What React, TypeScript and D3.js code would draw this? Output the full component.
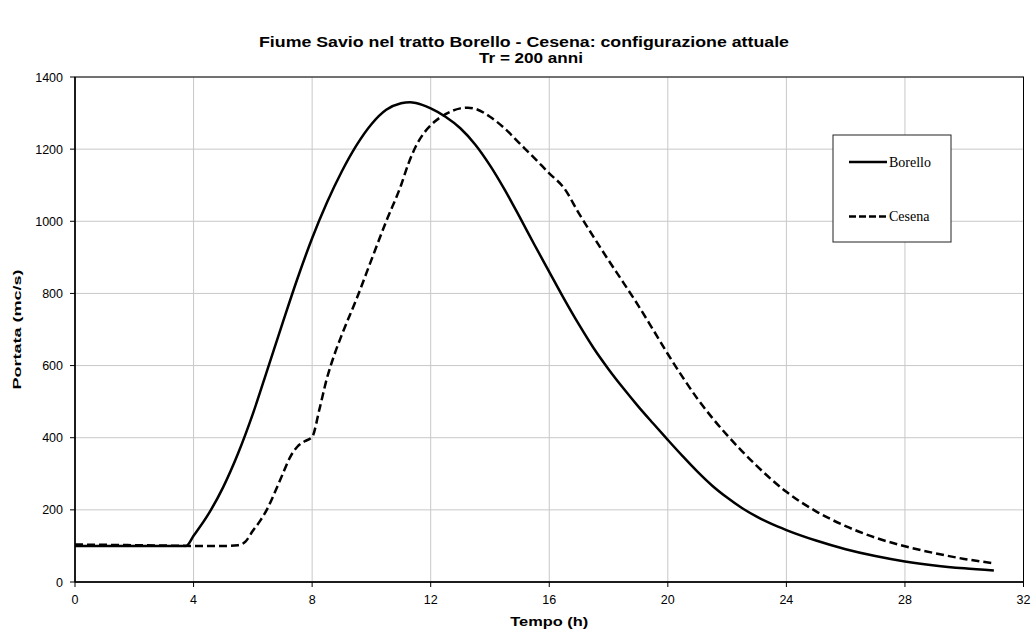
import React from "react";
import * as d3 from "d3";

const borelloT = [0, 1, 2, 3, 3.75, 4, 4.5, 5, 5.5, 6, 6.5, 7, 7.5, 8, 8.5, 9, 9.5, 10, 10.5, 11, 11.3, 11.5, 12, 12.5, 13, 13.5, 14, 14.5, 15, 15.5, 16, 16.5, 17, 17.5, 18, 18.5, 19, 19.5, 20, 20.5, 21, 21.5, 22, 22.5, 23, 23.5, 24, 25, 26, 27, 28, 29, 30, 31];
const borelloQ = [100, 100, 100, 100, 100, 128, 188, 263, 356, 466, 591, 717, 840, 953, 1052, 1138, 1211, 1269, 1309, 1327, 1330, 1328, 1313, 1290, 1258, 1213, 1155, 1087, 1012, 935, 860, 785, 714, 648, 590, 537, 487, 440, 394, 349, 306, 267, 234, 205, 181, 161, 144, 115, 91, 72, 57, 46, 38, 32];

const cesenaT = [0, 1, 2, 3, 4, 5, 5.5, 5.75, 6, 6.25, 6.5, 6.75, 7, 7.25, 7.5, 7.75, 8, 8.25, 8.5, 8.75, 9, 9.5, 10, 10.5, 11, 11.25, 11.5, 11.75, 12, 12.5, 13, 13.25, 13.5, 14, 14.5, 15, 15.5, 16, 16.5, 17, 17.5, 18, 18.5, 19, 19.5, 20, 20.5, 21, 21.5, 22, 22.5, 23, 23.5, 24, 25, 26, 27, 28, 29, 30, 31];
const cesenaQ = [104, 103, 102, 101, 100, 100, 102, 112, 142, 170, 205, 250, 298, 345, 375, 390, 402, 480, 565, 630, 685, 785, 893, 1000, 1100, 1160, 1208, 1242, 1266, 1297, 1313, 1315, 1312, 1290, 1257, 1216, 1175, 1133, 1092, 1022, 956, 892, 830, 767, 700, 632, 568, 508, 455, 407, 363, 322, 284, 250, 196, 155, 123, 99, 80, 64, 52];

const xTicks = [0, 4, 8, 12, 16, 20, 24, 28, 32];
const yTicks = [0, 200, 400, 600, 800, 1000, 1200, 1400];

const titleLines = ["Fiume Savio nel tratto Borello - Cesena: configurazione attuale", "Tr = 200 anni"];
const xLabel = "Tempo (h)";
const yLabel = "Portata (mc/s)";
const seriesNames = ["Borello", "Cesena"];

export default function App() {
  const W = 1033, H = 633;
  const L = 75, R = 1023.5, T = 77, B = 582;
  const x = d3.scaleLinear().domain([0, 32]).range([L, R]);
  const y = d3.scaleLinear().domain([0, 1400]).range([B, T]);
  const line = d3.line<[number, number]>().x(d => x(d[0])).y(d => y(d[1])).curve(d3.curveMonotoneX);
  const bData = borelloT.map((t, i) => [t, borelloQ[i]] as [number, number]);
  const cData = cesenaT.map((t, i) => [t, cesenaQ[i]] as [number, number]);
  const font = "Arial, 'Liberation Sans', sans-serif";
  const serif = "'Liberation Serif', 'Times New Roman', serif";
  const cx = (L + R) / 2;
  const titleW = [530, 104];
  const titleC = [524, 531];
  return (
    <svg width={W} height={H} style={{ position: "absolute", left: 0, top: 0, background: "#fff" }}>
      <rect x={0} y={0} width={W} height={H} fill="#fff" />
      {titleLines.map((s, i) => (
        <text key={i} x={titleC[i] - titleW[i] / 2} y={47 + i * 15.5} textLength={titleW[i]} lengthAdjust="spacingAndGlyphs" fontFamily={font} fontWeight="bold" fontSize={14}>{s}</text>
      ))}
      {xTicks.map(t => (
        <line key={"gx" + t} x1={x(t)} x2={x(t)} y1={T} y2={B} stroke="#c8c8c8" strokeWidth={1} />
      ))}
      {yTicks.map(t => (
        <line key={"gy" + t} x1={L} x2={R} y1={y(t)} y2={y(t)} stroke="#c8c8c8" strokeWidth={1} />
      ))}
      <rect x={L} y={T} width={R - L} height={B - T} fill="none" stroke="#000" strokeWidth={1} />
      <line x1={L} x2={L} y1={T} y2={B} stroke="#000" strokeWidth={1.5} />
      <line x1={L} x2={R} y1={B} y2={B} stroke="#000" strokeWidth={1.5} />
      {xTicks.map(t => (
        <g key={"tx" + t}>
          <line x1={x(t)} x2={x(t)} y1={B} y2={B + 5} stroke="#000" />
          <text x={x(t)} y={B + 22} textAnchor="middle" fontFamily={font} fontSize={12.5}>{t}</text>
        </g>
      ))}
      {yTicks.map(t => (
        <g key={"ty" + t}>
          <line x1={L - 5} x2={L} y1={y(t)} y2={y(t)} stroke="#000" />
          <text x={L - 12} y={y(t) + 4.5} textAnchor="end" fontFamily={font} fontSize={12.5}>{t}</text>
        </g>
      ))}
      <text x={cx - 39} y={626} textLength={78} lengthAdjust="spacingAndGlyphs" fontFamily={font} fontWeight="bold" fontSize={12}>{xLabel}</text>
      <text transform={`translate(21,${(T + B) / 2 + 60}) rotate(-90)`} textLength={120} lengthAdjust="spacingAndGlyphs" fontFamily={font} fontWeight="bold" fontSize={11.5}>{yLabel}</text>
      <path d={line(cData) || ""} fill="none" stroke="#000" strokeWidth={2.5} strokeDasharray="8,4" />
      <path d={line(bData) || ""} fill="none" stroke="#000" strokeWidth={2.5} />
      <g>
        <rect x={833} y={135} width={118} height={107} fill="#fff" stroke="#222" strokeWidth={1} />
        <line x1={849} x2={887} y1={162} y2={162} stroke="#000" strokeWidth={2.5} />
        <text x={889} y={166.5} fontFamily={serif} fontSize={14}>{seriesNames[0]}</text>
        <line x1={849} x2={887} y1={216.5} y2={216.5} stroke="#000" strokeWidth={2.5} strokeDasharray="7,3" />
        <text x={889} y={221} fontFamily={serif} fontSize={14}>{seriesNames[1]}</text>
      </g>
    </svg>
  );
}
